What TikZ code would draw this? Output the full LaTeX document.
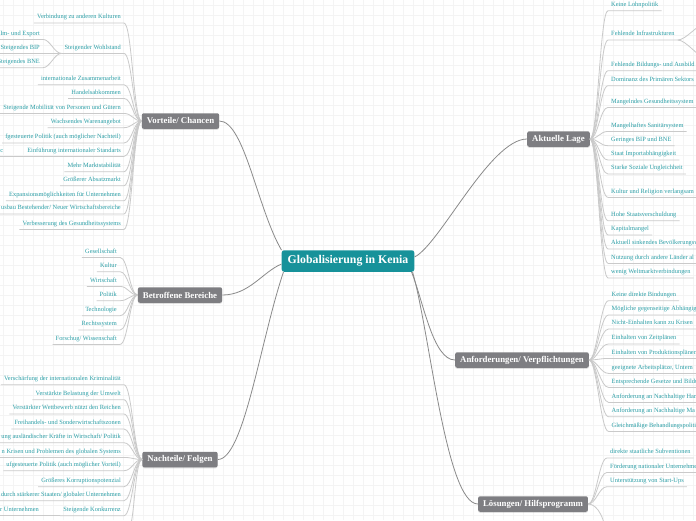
\documentclass[tikz,border=0pt]{standalone}
\usepackage{fontspec}
\setmainfont{Liberation Serif}
\usetikzlibrary{positioning,calc,shadows}
\definecolor{cTeal}{HTML}{17929A}
\definecolor{cGrey}{HTML}{7E7E82}
\definecolor{cLeaf}{HTML}{2C9FA7}
\definecolor{cLink}{HTML}{8A8A8A}
\definecolor{cTwig}{HTML}{CACACA}
\definecolor{cGrid}{HTML}{F4F4F4}

\begin{document}
\begin{tikzpicture}[x=1pt,y=-1pt,
    hub/.style={fill=cTeal,rounded corners=2.5pt,text=white,inner xsep=6pt,minimum height=21.5pt,
      font=\fontsize{11.8}{13}\selectfont\bfseries},
    topic/.style={fill=cGrey,rounded corners=2pt,text=white,inner xsep=5pt,minimum height=15.5pt,
      font=\fontsize{8.8}{10}\selectfont\bfseries,
      drop shadow={shadow xshift=0pt,shadow yshift=-1pt,opacity=0.25}},
    leafbase/.style={text=cLeaf,font=\fontsize{6.4}{7}\selectfont,inner xsep=3pt,inner ysep=2.5pt,
      text height=4.5pt,text depth=1.5pt},
    leafl/.style={leafbase,anchor=east},
    leafr/.style={leafbase,anchor=west},
    mainlink/.style={draw=cLink,line width=0.8pt},
    twig/.style={draw=cTwig,line width=0.8pt}]
  \useasboundingbox (0,0) rectangle (696,520);
  \clip (0,0) rectangle (696,520);
  \fill[white] (0,0) rectangle (696,520);
  % background grid
  \foreach \gx in {3,13,...,693}
    \draw[cGrid,line width=0.5pt] (\gx,0) -- (\gx,520);
  \foreach \gy in {5,15,...,515}
    \draw[cGrid,line width=0.5pt] (0,\gy) -- (696,\gy);

  % centre and main topics
  \node[hub] (kenia) at (348,261) {Globalisierung in Kenia};
  \node[topic] (vor) at (180.5,121) {Vorteile/ Chancen};
  \node[topic] (ber) at (180,295) {Betroffene Bereiche};
  \node[topic] (nach) at (180,459.5) {Nachteile/ Folgen};
  \node[topic] (lage) at (558.5,139) {Aktuelle Lage};
  \node[topic] (anf) at (522,360) {Anforderungen/ Verpflichtungen};
  \node[topic] (loes) at (533,504) {Lösungen/ Hilfsprogramm};

  \draw[mainlink] (kenia.north west) .. controls +(-24,-41) and +(25,0) .. (vor.east);
  \draw[mainlink] ($(kenia.west)+(0,3)$) .. controls +(-19,8) and +(27,0) .. (ber.east);
  \draw[mainlink] ($(kenia.south west)+(2,0)$) .. controls +(-23,68) and +(26,0) .. (nach.east);
  \draw[mainlink] ($(kenia.east)+(0,-4)$) .. controls +(25,-12) and +(-37,0) .. (lage.west);
  \draw[mainlink] ($(kenia.south east)+(-3,0)$) .. controls +(12,30) and +(-22,0) .. (anf.west);
  \draw[mainlink] ($(kenia.south east)+(-2,0)$) .. controls +(17,58) and +(-32,0) .. (loes.west);

  % Vorteile/ Chancen
  \foreach \y/\t [count=\i] in {17.3/Verbindung zu anderen Kulturen,47.7/Steigender Wohlstand,
      79/internationale Zusammenarbeit,92.7/Handelsabkommen,
      107.7/Steigende Mobilität von Personen und Gütern,122/Wachsendes Warenangebot,
      137.3/fgesteuerte Politik (auch möglicher Nachteil),150.7/Einführung internationaler Standarts,
      166/Mehr Marktstabilität,180/Größerer Absatzmarkt,
      195/Expansionsmöglichkeiten für Unternehmen,208.3/{usbau Bestehender/ Neuer Wirtschaftsbereiche},
      223.7/Verbesserung des Gesundheitssystems}{
    \node[leafl] (v\i) at (124,\y) {\t};
    \draw[twig] (vor.west) .. controls +(-8,0) and +(8,0) .. (v\i.south east) -- (v\i.south west);
  }
  \foreach \y/\t [count=\i] in {33.7/Im- und Export,47.7/Steigendes BIP,62/Steigendes BNE}{
    \node[leafl] (w\i) at (43,\y) {\t};
    \draw[twig] (v2.south west) .. controls +(-7,0) and +(7,0) .. (w\i.south east) -- (w\i.south west);
  }
  \node[leafl] (v8c) at (6.5,150.7) {c};
  \draw[twig] (v8.south west) -- (v8c.south east) -- (v8c.south west);

  % Betroffene Bereiche
  \foreach \y/\t [count=\i] in {251.7/Gesellschaft,266/Kultur,280.7/Wirtschaft,295/Politik,
      310/Technologie,324.3/Rechtssystem,338.7/{Forschug/ Wissenschaft}}{
    \node[leafl] (b\i) at (120,\y) {\t};
    \draw[twig] (ber.west) .. controls +(-8,0) and +(8,0) .. (b\i.south east) -- (b\i.south west);
  }

  % Nachteile/ Folgen
  \foreach \y/\t [count=\i] in {379/Verschärfung der internationalen Kriminalität,
      394/Verstärkte Belastung der Umwelt,408.3/Verstärkter Wettbewerb nützt den Reichen,
      423.3/Freihandels- und Sonderwirtschaftszonen,
      437/{ung ausländischer Kräfte in Wirtschaft/ Politik},
      451.7/n Krisen und Problemen des globalen Systems,
      465/ufgesteuerte Politik (auch möglicher Vorteil),481/Größeres Korruptionspotenzial,
      495/{durch stärkerer Staaten/ globaler Unternehmen},510/Steigende Konkurrenz}{
    \node[leafl] (n\i) at (124,\y) {\t};
    \draw[twig] (nach.west) .. controls +(-8,0) and +(8,0) .. (n\i.south east) -- (n\i.south west);
  }
  \node[leafl] (n10c) at (42,510) {r Unternehmen};
  \draw[twig] (n10.south west) -- (n10c.south east) -- (n10c.south west);
  \coordinate (nx) at (127,532);
  \draw[twig] (nach.west) .. controls +(-8,0) and +(8,0) .. (nx);

  % Aktuelle Lage
  \foreach \y/\t [count=\i] in {5/Keine Lohnpolitik,34.3/Fehlende Infrastrukturen,
      65/Fehlende Bildungs- und Ausbild,80/Dominanz des Primären Sektors,
      101.7/Mangelndes Gesundheitssystem,125.7/Mangelhaftes Sanitärsystem,
      140/Geringes BIP und BNE,154.3/Staat Importabhängigkeit,168.3/Starke Soziale Ungleichheit,
      191.7/Kultur und Religion verlangsam,215/Hohe Staatsverschuldung,229.3/Kapitalmangel,
      243.3/Aktuell sinkendes Bevölkerungsw,257.7/Nutzung durch andere Länder al,
      272.3/wenig Weltmarktverbindungen}{
    \node[leafr] (a\i) at (608,\y) {\t};
    \draw[twig] (lage.east) .. controls +(8,0) and +(-8,0) .. (a\i.south west) -- (a\i.south east);
  }
  \coordinate (a2u) at (704,24);
  \coordinate (a2d) at (704,57);
  \draw[twig] (a2.south east) .. controls +(8,0) and +(-6,0) .. (a2u);
  \draw[twig] (a2.south east) .. controls +(8,0) and +(-6,0) .. (a2d);

  % Anforderungen/ Verpflichtungen
  \foreach \y/\t [count=\i] in {295/Keine direkte Bindungen,309.3/Mögliche gegenseitige Abhängigk,
      323.3/Nicht-Einhalten kann zu Krisen,338.3/Einhalten von Zeitplänen,
      352.7/Einhalten von Produktionsplänen,{367.7/geeignete Arbeitsplätze, Untern},
      381.7/Entsprechende Gesetze und Bildu,396.7/Anforderung an Nachhaltige Han,
      411/Anforderung an Nachhaltige Ma,425.7/Gleichmäßige Behandlungspoliti}{
    \node[leafr] (f\i) at (608.5,\y) {\t};
    \draw[twig] (anf.east) .. controls +(8,0) and +(-8,0) .. (f\i.south west) -- (f\i.south east);
  }

  % Lösungen/ Hilfsprogramm
  \foreach \y/\t [count=\i] in {452.3/direkte staatliche Subventionen,
      466.7/Förderung nationaler Unternehme,481/Unterstützung von Start-Ups}{
    \node[leafr] (l\i) at (607,\y) {\t};
    \draw[twig] (loes.east) .. controls +(8,0) and +(-8,0) .. (l\i.south west) -- (l\i.south east);
  }
  \coordinate (lx) at (606,540);
  \draw[twig] (loes.east) .. controls +(10,0) and +(0,-20) .. (lx);
\end{tikzpicture}
\end{document}
